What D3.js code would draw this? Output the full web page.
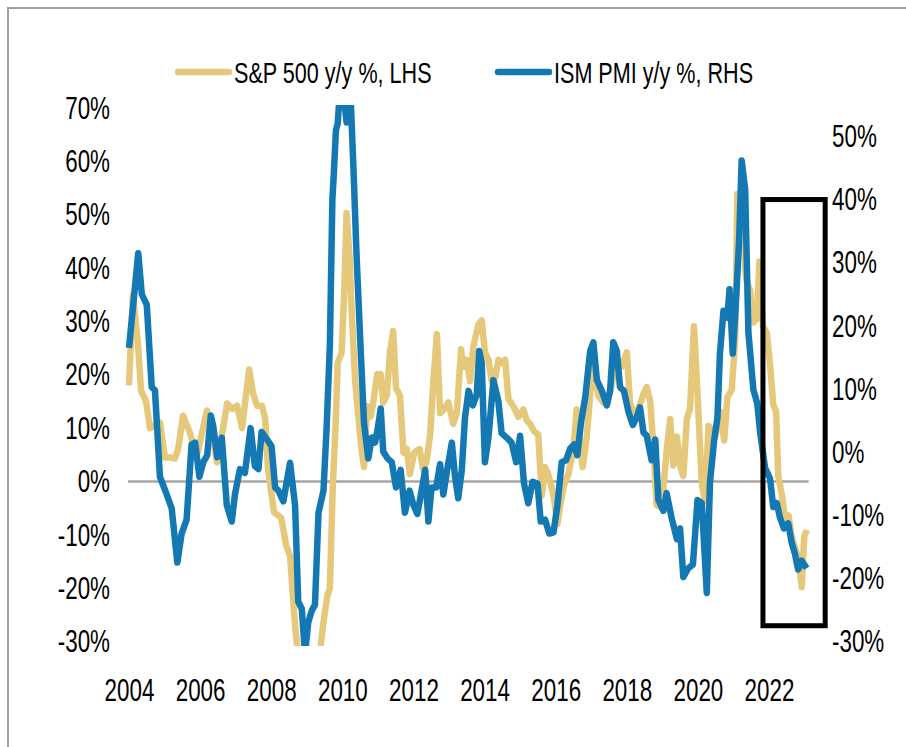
<!DOCTYPE html>
<html>
<head>
<meta charset="utf-8">
<script src="https://cdn.jsdelivr.net/npm/d3@7/dist/d3.min.js"></script>
<style>
  body { margin: 0; background: #fff; }
  svg text { font-family: "Liberation Sans", Arial, sans-serif; fill: #000; }
</style>
</head>
<body>
<svg id="chart" width="906" height="747"></svg>
<script>
/* S&P 500 y/y vs ISM PMI y/y, dual axis line chart */

// S&P 500 y/y % (left axis), decimal years
var spxYears = [2004.00, 2004.11, 2004.25, 2004.34, 2004.48, 2004.59, 2004.73, 2004.87, 2005.01, 2005.15,
  2005.29, 2005.38, 2005.52, 2005.63, 2005.72, 2005.83, 2005.94, 2006.05, 2006.19, 2006.33,
  2006.48, 2006.62, 2006.76, 2006.90, 2007.04, 2007.18, 2007.26, 2007.38, 2007.49, 2007.60,
  2007.74, 2007.83, 2007.91, 2008.08, 2008.28, 2008.42, 2008.53, 2008.67, 2008.84, 2009.04,
  2009.23, 2009.37, 2009.47, 2009.58, 2009.65, 2009.73, 2009.82, 2009.87, 2009.98, 2010.05,
  2010.12, 2010.20, 2010.26, 2010.36, 2010.45, 2010.55, 2010.61, 2010.70, 2010.80, 2010.87,
  2010.98, 2011.08, 2011.15, 2011.25, 2011.34, 2011.43, 2011.51, 2011.62, 2011.72, 2011.81,
  2011.90, 2012.02, 2012.17, 2012.28, 2012.37, 2012.47, 2012.56, 2012.66, 2012.75, 2012.86,
  2012.98, 2013.12, 2013.22, 2013.34, 2013.40, 2013.50, 2013.59, 2013.69, 2013.83, 2013.92,
  2014.01, 2014.11, 2014.20, 2014.30, 2014.39, 2014.48, 2014.58, 2014.67, 2014.81, 2014.95,
  2015.09, 2015.19, 2015.28, 2015.39, 2015.51, 2015.61, 2015.70, 2015.79, 2015.94, 2016.05,
  2016.12, 2016.24, 2016.36, 2016.50, 2016.59, 2016.67, 2016.76, 2016.87, 2016.97, 2017.06,
  2017.20, 2017.34, 2017.48, 2017.62, 2017.72, 2017.86, 2018.00, 2018.09, 2018.23, 2018.37,
  2018.47, 2018.56, 2018.66, 2018.75, 2018.84, 2018.98, 2019.13, 2019.22, 2019.31, 2019.41,
  2019.50, 2019.59, 2019.69, 2019.78, 2019.89, 2019.99, 2020.11, 2020.20, 2020.30, 2020.39,
  2020.49, 2020.63, 2020.74, 2020.83, 2020.95, 2021.05, 2021.11, 2021.19, 2021.28, 2021.36,
  2021.47, 2021.56, 2021.66, 2021.73, 2021.83, 2021.94, 2022.03, 2022.12, 2022.20, 2022.26,
  2022.36, 2022.45, 2022.55, 2022.64, 2022.73, 2022.83, 2022.92, 2022.99, 2023.06];
var spxValues = [18, 35, 26, 17, 15, 10, 10.5, 11, 4.5, 4.5,
  4.3, 6, 12.3, 10.5, 9, 6, 5.6, 9, 13.3, 9.3,
  3.6, 9, 14.6, 13.6, 14.2, 10, 14.5, 21, 16.5, 14.2,
  14.2, 11.7, 2.3, -5.8, -6.8, -12, -14, -27, -38, -45,
  -40, -32, -26.3, -21.4, -20, -1.3, 12.2, 22.2, 24.2, 34.9,
  50.3, 42.3, 32.3, 18.8, 12.2, 5.4, 2.7, 14.1, 12.2, 14.8,
  20.1, 20.1, 14.8, 16.1, 24.2, 28.2, 17.5, 16.1, 5.4, 6.1,
  1.4, 5.4, 6.1, 2.1, 3.9, 8.8, 18.8, 27.6, 12.8, 13.5,
  14.8, 10.8, 12.8, 24.8, 21.5, 22.8, 18.8, 25.5, 29.5, 30.2,
  24.2, 22.8, 18.8, 19.5, 22.8, 22.2, 22.8, 15.5, 14.1, 12.1,
  13.5, 11.4, 10.8, 9.4, 8.8, -2.6, 2.7, 1.4, -2.6, -8,
  -4.6, -0.6, 1.4, 6.1, 13.5, 8.1, 2.7, 8.1, 16.1, 22.8,
  16.1, 14.8, 15.5, 19.5, 21.5, 21.5, 24.2, 14.8, 12.1, 14.4,
  16.4, 17.7, 15, 6.4, -4.4, -5, 6.4, 11.7, 3, 8.4,
  3, 1, 11.7, 13.7, 29.1, 16.4, -0.4, -3.7, 10.4, 9.7,
  8.4, 13.1, 7.7, 15.8, 17.1, 26.5, 53.9, 45.2, 45.2, 37.8,
  35.8, 29.8, 30.5, 41.2, 29.1, 27.8, 21.8, 14.4, 13.1, 1,
  -2.4, -7, -6.4, -10.4, -12.4, -14.4, -19.8, -10.4, -9.1];

// ISM PMI y/y % (right axis)
var ismYears = [2004.00, 2004.26, 2004.36, 2004.50, 2004.64, 2004.73, 2004.87, 2005.06, 2005.20, 2005.36,
  2005.48, 2005.62, 2005.76, 2005.86, 2005.98, 2006.09, 2006.20, 2006.30, 2006.37, 2006.48,
  2006.61, 2006.75, 2006.89, 2006.98, 2007.12, 2007.26, 2007.42, 2007.54, 2007.64, 2007.73,
  2007.87, 2008.01, 2008.11, 2008.20, 2008.34, 2008.53, 2008.67, 2008.76, 2008.86, 2008.95,
  2009.04, 2009.14, 2009.23, 2009.33, 2009.47, 2009.56, 2009.65, 2009.72, 2009.76, 2009.82,
  2009.87, 2009.94, 2010.03, 2010.12, 2010.22, 2010.31, 2010.40, 2010.50, 2010.61, 2010.73,
  2010.83, 2010.92, 2010.99, 2011.08, 2011.15, 2011.27, 2011.39, 2011.51, 2011.64, 2011.76,
  2011.89, 2012.00, 2012.11, 2012.23, 2012.33, 2012.42, 2012.51, 2012.64, 2012.75, 2012.84,
  2012.95, 2013.08, 2013.17, 2013.26, 2013.36, 2013.45, 2013.55, 2013.67, 2013.78, 2013.85,
  2013.92, 2014.01, 2014.11, 2014.25, 2014.39, 2014.48, 2014.62, 2014.76, 2014.89, 2015.00,
  2015.11, 2015.23, 2015.35, 2015.49, 2015.58, 2015.70, 2015.82, 2015.94, 2016.05, 2016.17,
  2016.29, 2016.41, 2016.52, 2016.61, 2016.71, 2016.83, 2016.97, 2017.06, 2017.16, 2017.30,
  2017.44, 2017.53, 2017.62, 2017.72, 2017.81, 2017.92, 2018.05, 2018.17, 2018.28, 2018.37,
  2018.47, 2018.56, 2018.70, 2018.80, 2018.89, 2019.03, 2019.12, 2019.26, 2019.41, 2019.50,
  2019.59, 2019.73, 2019.86, 2019.99, 2020.11, 2020.25, 2020.34, 2020.46, 2020.55, 2020.62,
  2020.72, 2020.83, 2020.89, 2020.98, 2021.07, 2021.16, 2021.23, 2021.33, 2021.42, 2021.56,
  2021.67, 2021.75, 2021.89, 2022.03, 2022.12, 2022.22, 2022.31, 2022.42, 2022.54, 2022.64,
  2022.73, 2022.82, 2022.92, 2023.06];
var ismValues = [16.5, 31.5, 25, 23.3, 10.3, 9.8, -3.9, -6.7, -8.9, -17.5,
  -12.9, -10.7, 1.2, 1.5, -3.9, -1.6, -0.5, 5.8, 4.1, -0.8,
  2.3, -8.4, -11, -6.7, -2.7, -3.3, 3.8, -2.2, -2.7, 3.2,
  2.1, 0.9, -5.6, -6.1, -7.8, -1.7, -8.4, -23.7, -24.8, -32,
  -27, -25.1, -24.2, -9.6, -6.1, 4.1, 17.1, 40, 44, 51,
  52, 58, 57, 52.2, 58, 45.4, 31.2, 18.2, 4.6, -1,
  2.3, 1.5, 3.5, 6.9, 0.1, -1, -1.6, -5.6, -2.8, -9.6,
  -6.1, -8.4, -9.8, -6.1, -2.8, -11, -5.6, -5.6, -1.9, -6.7,
  -2.8, 1.5, -3.9, -7.3, -2.8, 5.5, 9.7, 7.4, 9.1, 16,
  14.2, -1.6, 2.3, 11.4, 8, 3, 2.3, 1.5, -1.6, 2.6,
  -5, -8.1, -4.7, -5, -11, -10.7, -12.9, -12.7, -8.4, -1.6,
  -1.3, 0.6, 1.2, -0.5, 4.6, 8.6, 16, 17.4, 11.4, 9.7,
  7.4, 9.7, 17.4, 16, 10.3, 9.7, 6.3, 4.3, 5.5, 7.1,
  3.1, 2.6, -1.3, 2, -7.6, -9.3, -6.5, -10.4, -13.8, -12.1,
  -19.8, -18.4, -17.8, -7.6, -8.1, -22.3, -4.8, 2, 5.4, 15.6,
  22.4, 21.3, 25.8, 15.6, 23.6, 33.7, 46.2, 41.6, 19, 9.9,
  7.7, 3.1, -2.5, -4.2, -8.7, -8.1, -10.4, -12.1, -11.3, -14.4,
  -16.1, -18.6, -17.2, -18.4];

var leftTicks = [-30, -20, -10, 0, 10, 20, 30, 40, 50, 60, 70];
var rightTicks = [-30, -20, -10, 0, 10, 20, 30, 40, 50];
var yearTicks = [2004, 2006, 2008, 2010, 2012, 2014, 2016, 2018, 2020, 2022];
var seriesNames = ["S&P 500 y/y %, LHS", "ISM PMI y/y %, RHS"];
var seriesColors = ["#E5C87A", "#1479B3"];

// highlighted window (years, right axis %)
var boxYears = [2021.83, 2023.58];
var boxRange = [40, -27.5];

var textScale = "scale(0.7,1)";

var svg = d3.select("#chart");

var x = d3.scaleLinear().domain([2004, 2022]).range([129, 769]);
var yLeft = d3.scaleLinear().domain([-30, 70]).range([641.5, 108]);
var yRight = d3.scaleLinear().domain([-30, 54.5]).range([641.5, 108]);

// outer frame
svg.append("path")
  .attr("d", "M8,747 V8 H906")
  .attr("fill", "none")
  .attr("stroke", "#a0a0a0")
  .attr("stroke-width", 2);

svg.append("clipPath").attr("id", "plotClip")
  .append("rect")
  .attr("x", 100).attr("y", 105)
  .attr("width", 740).attr("height", 541);

// zero line
svg.append("line")
  .attr("x1", x(spxYears[0]) - 1)
  .attr("x2", x(spxYears[spxYears.length - 1]) + 2)
  .attr("y1", yLeft(0))
  .attr("y2", yLeft(0))
  .attr("stroke", "#a6a6a6")
  .attr("stroke-width", 2.5);

var spxLine = d3.line()
  .x(function (d, i) { return x(spxYears[i]); })
  .y(function (d) { return yLeft(d); });

var ismLine = d3.line()
  .x(function (d, i) { return x(ismYears[i]); })
  .y(function (d) { return yRight(d); });

var lines = svg.append("g").attr("clip-path", "url(#plotClip)");

lines.append("path")
  .datum(spxValues)
  .attr("d", spxLine)
  .attr("fill", "none")
  .attr("stroke", seriesColors[0])
  .attr("stroke-width", 6.5)
  .attr("stroke-linejoin", "round");

lines.append("path")
  .datum(ismValues)
  .attr("d", ismLine)
  .attr("fill", "none")
  .attr("stroke", seriesColors[1])
  .attr("stroke-width", 6.5)
  .attr("stroke-linejoin", "round");

// axes
var leftAxis = svg.append("g")
  .attr("transform", "translate(110,0)")
  .call(d3.axisLeft(yLeft).tickValues(leftTicks).tickSize(0).tickPadding(0)
    .tickFormat(function (d) { return d + "%"; }));

var rightAxis = svg.append("g")
  .attr("transform", "translate(832,0)")
  .call(d3.axisRight(yRight).tickValues(rightTicks).tickSize(0).tickPadding(0)
    .tickFormat(function (d) { return d + "%"; }));

var bottomAxis = svg.append("g")
  .attr("transform", "translate(0,642)")
  .call(d3.axisBottom(x).tickValues(yearTicks).tickSize(0).tickPadding(36)
    .tickFormat(d3.format("d")));

[leftAxis, rightAxis, bottomAxis].forEach(function (ax) {
  ax.select(".domain").remove();
  ax.selectAll("text")
    .attr("font-size", 32)
    .attr("font-family", "'Liberation Sans', Arial, sans-serif")
    .attr("fill", "#000")
    .attr("transform", textScale);
});

// highlight box
svg.append("rect")
  .attr("x", x(boxYears[0]))
  .attr("y", yRight(boxRange[0]))
  .attr("width", x(boxYears[1]) - x(boxYears[0]))
  .attr("height", yRight(boxRange[1]) - yRight(boxRange[0]))
  .attr("fill", "none")
  .attr("stroke", "#000")
  .attr("stroke-width", 5);

// legend
var legendX = [178, 498];
var legend = svg.append("g").attr("transform", "translate(0,72)");

seriesNames.forEach(function (name, i) {
  var item = legend.append("g").attr("transform", "translate(" + legendX[i] + ",0)");
  item.append("line")
    .attr("x1", 0).attr("x2", 51)
    .attr("y1", 0).attr("y2", 0)
    .attr("stroke", seriesColors[i])
    .attr("stroke-width", 6.5)
    .attr("stroke-linecap", "round");
  item.append("text")
    .attr("x", 56)
    .attr("dy", "0.36em")
    .attr("font-size", 30)
    .attr("transform", "translate(56,0) scale(0.72,1) translate(-56,0)")
    .text(name);
});
</script>
</body>
</html>
